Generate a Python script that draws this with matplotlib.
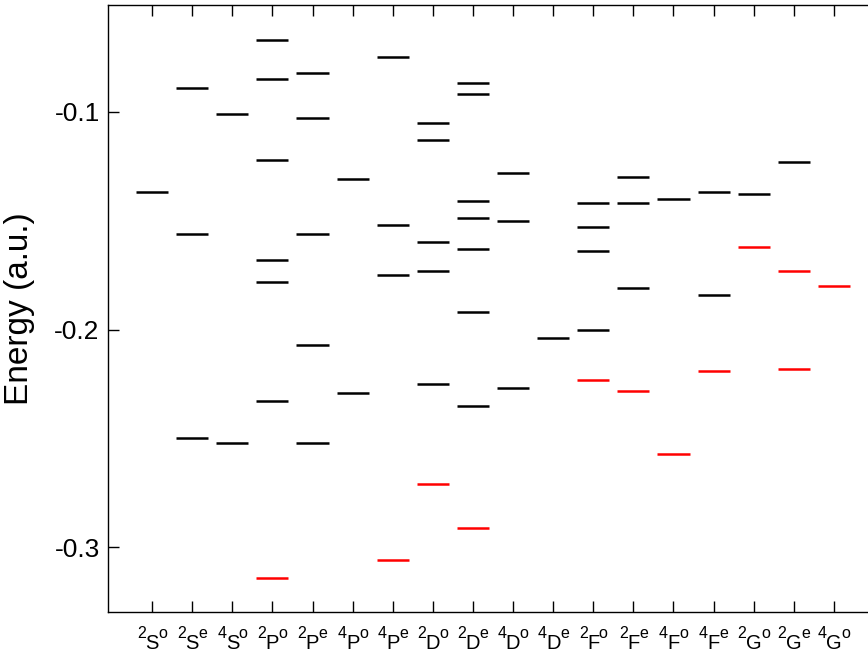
import matplotlib
matplotlib.use("Agg")
import matplotlib.pyplot as plt
from matplotlib.transforms import offset_copy

plt.rcParams['font.family'] = ['Liberation Sans', 'DejaVu Sans']

# term symbols (multiplicity, L, parity)
mult = ["2", "2", "4", "2", "2", "4", "4", "2", "2", "4", "4", "2", "2", "4", "4", "2", "2", "4"]
Lsym = ["S", "S", "S", "P", "P", "P", "P", "D", "D", "D", "D", "F", "F", "F", "F", "G", "G", "G"]
parity = ["o", "e", "o", "o", "e", "o", "e", "o", "e", "o", "e", "o", "e", "o", "e", "o", "e", "o"]

# energy levels (a.u.), black and red ones per term
black_levels = [
    [-0.137],
    [-0.089, -0.156, -0.250],
    [-0.101, -0.252],
    [-0.067, -0.085, -0.122, -0.168, -0.178, -0.233],
    [-0.082, -0.103, -0.156, -0.207, -0.252],
    [-0.131, -0.229],
    [-0.075, -0.152, -0.175],
    [-0.105, -0.113, -0.160, -0.173, -0.225],
    [-0.087, -0.092, -0.141, -0.149, -0.163, -0.192, -0.235],
    [-0.128, -0.150, -0.227],
    [-0.204],
    [-0.142, -0.153, -0.164, -0.200],
    [-0.130, -0.142, -0.181],
    [-0.140],
    [-0.137, -0.184],
    [-0.138],
    [-0.123],
    [],
]
red_levels = [
    [], [], [],
    [-0.314],
    [], [],
    [-0.306],
    [-0.271],
    [-0.291],
    [], [],
    [-0.223],
    [-0.228],
    [-0.257],
    [-0.219],
    [-0.162],
    [-0.173, -0.218],
    [-0.180],
]

xpos = list(range(1, len(Lsym) + 1))

fig = plt.figure(figsize=(8.68, 6.52), dpi=100)
ax = fig.add_axes([108 / 868, 40 / 652, 764 / 868, 607 / 652])

hw = 0.4
for x, levels in zip(xpos, black_levels):
    for e in levels:
        ax.hlines(e, x - hw, x + hw, color="black", lw=1.8, capstyle="butt")
for x, levels in zip(xpos, red_levels):
    for e in levels:
        ax.hlines(e, x - hw, x + hw, color="#ff0000", lw=1.8, capstyle="butt")

ax.set_xlim(-0.1, 18.95)
ax.set_ylim(-0.3297, -0.051)
ax.set_xticks(xpos)
ax.set_xticklabels([])
ax.set_yticks([-0.3, -0.2, -0.1])
ax.set_yticklabels(["-0.3", "-0.2", "-0.1"], fontsize=19)
ax.tick_params(direction="in", length=8, width=1, top=True, right=False)
ax.tick_params(axis="y", pad=6)
ax.spines["right"].set_visible(False)
for s in ax.spines.values():
    s.set_linewidth(1.0)

ax.set_ylabel("Energy (a.u.)", fontsize=24, labelpad=14)

# term labels: superscripts nearly as big as the letter, as in the original
trans = ax.get_xaxis_transform()
pieces = []
for x, m, l, p in zip(xpos, mult, Lsym, parity):
    t1 = ax.text(x, 0, m, fontsize=11.5, transform=trans, va="baseline", ha="left")
    t2 = ax.text(x, 0, l, fontsize=14.5, transform=trans, va="baseline", ha="left")
    t3 = ax.text(x, 0, p, fontsize=11.5, transform=trans, va="baseline", ha="left")
    pieces.append((x, t1, t2, t3))

fig.canvas.draw()
r = fig.canvas.get_renderer()
gap = -0.5
for x, t1, t2, t3 in pieces:
    w1 = t1.get_window_extent(r).width
    w2 = t2.get_window_extent(r).width
    w3 = t3.get_window_extent(r).width
    x0 = -(w1 + w2 + w3 + 2 * gap) / 2
    t1.set_transform(offset_copy(trans, fig, x=x0, y=-26.5, units="dots"))
    t2.set_transform(offset_copy(trans, fig, x=x0 + w1 + gap, y=-37, units="dots"))
    t3.set_transform(offset_copy(trans, fig, x=x0 + w1 + w2 + 2 * gap, y=-26.5, units="dots"))

fig.savefig("out.png", dpi=100)
